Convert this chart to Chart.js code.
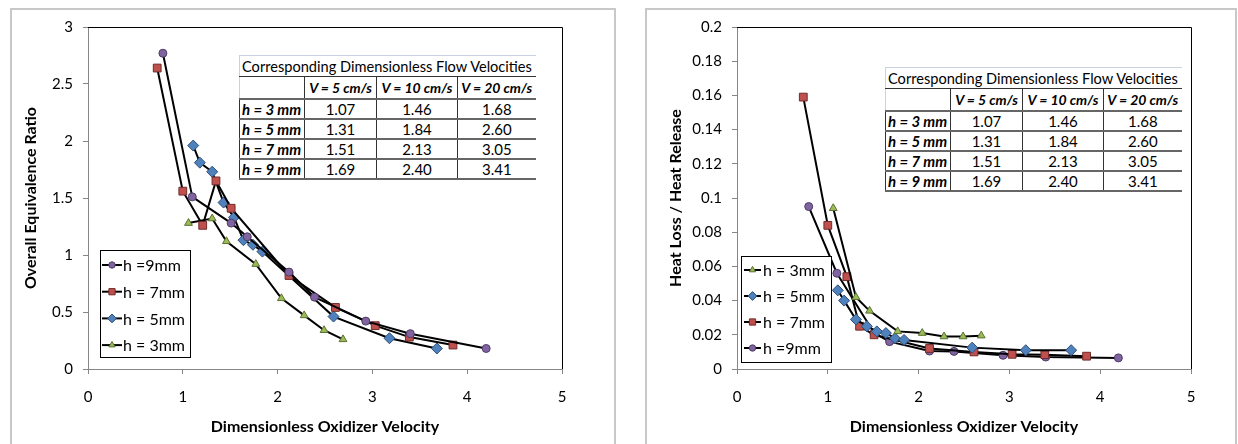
<!DOCTYPE html>
<html>
<head>
<meta charset="utf-8">
<script src="https://cdn.jsdelivr.net/npm/chart.js@4.4.0/dist/chart.umd.min.js"></script>
<style>
    body { margin: 0; background: #fff; width: 1238px; height: 444px; overflow: hidden; position: relative; font-family: Lato, sans-serif; }
    .frame { position: absolute; border: 2px solid #c8c8c8; box-sizing: border-box; }
    canvas { position: absolute; }
    table.vel { position: absolute; width: 296px; border-collapse: collapse; table-layout: fixed; background: #fff; font-size: 15px; color: #000; }
    table.vel td { padding: 0; text-align: center; white-space: nowrap; overflow: hidden; border-right: 1px solid #333; border-bottom: 2px solid #666; }
    table.vel td.rh { text-align: left; padding-left: 2px; font-weight: bold; font-style: italic; border-left: 1px solid #333; }
    table.vel td.ch { font-weight: bold; font-style: italic; font-size: 14px; }
    table.vel td.head { text-align: left; padding-left: 2px; font-size: 14.6px; border-top: 1px solid #c9d3e3; border-left: 1px solid #c9d3e3; border-right: none; border-bottom: 1px solid #333; }
    table.vel td.blank { border-left: 1px solid #c9d3e3; }
    table.vel td.last { border-right: none; }
</style>
</head>
<body>
<div class="frame" style="left:10px;top:8px;width:606px;height:450px;"></div>
<div class="frame" style="left:645px;top:8px;width:592px;height:450px;"></div>
<canvas id="ratio-chart" width="605" height="436" style="left:10px;top:8px;"></canvas>
<canvas id="loss-chart" width="590" height="436" style="left:646px;top:8px;"></canvas>
<table class="vel" id="table-left" style="left:239px;top:55px;"></table>
<table class="vel" id="table-right" style="left:885px;top:67px;"></table>

<script>
// x positions (dimensionless oxidizer velocity) for each channel height
const xH9 = [0.79, 1.10, 1.51, 1.68, 2.12, 2.39, 2.93, 3.40, 4.20];
const xH7 = [0.73, 1.00, 1.21, 1.35, 1.51, 2.12, 2.61, 3.03, 3.39, 3.85];
const xH5 = [1.11, 1.18, 1.31, 1.43, 1.54, 1.64, 1.74, 1.84, 2.59, 3.18, 3.68];
const xH3 = [1.06, 1.31, 1.46, 1.77, 2.04, 2.28, 2.49, 2.69];

// overall equivalence ratio (left chart)
const ratioH9 = [2.77, 1.51, 1.28, 1.16, 0.85, 0.63, 0.42, 0.31, 0.18];
const ratioH7 = [2.64, 1.56, 1.26, 1.65, 1.41, 0.82, 0.54, 0.38, 0.28, 0.21];
const ratioH5 = [1.96, 1.81, 1.73, 1.46, 1.33, 1.13, 1.09, 1.03, 0.46, 0.27, 0.18];
const ratioH3 = [1.28, 1.32, 1.12, 0.92, 0.62, 0.47, 0.34, 0.26];

// heat loss / heat release (right chart)
const lossH9 = [0.095, 0.056, 0.021, 0.016, 0.0105, 0.0103, 0.008, 0.007, 0.0065];
const lossH7 = [0.159, 0.084, 0.054, 0.025, 0.020, 0.012, 0.010, 0.0086, 0.0084, 0.0075];
const lossH5 = [0.046, 0.040, 0.029, 0.025, 0.022, 0.021, 0.018, 0.017, 0.0125, 0.011, 0.011];
const lossH3 = [0.094, 0.042, 0.034, 0.022, 0.021, 0.019, 0.019, 0.0195];

const xTicks = [0, 1, 2, 3, 4, 5];
const ratioTicks = [0, 0.5, 1, 1.5, 2, 2.5, 3];
const lossTicks = [0, 0.02, 0.04, 0.06, 0.08, 0.1, 0.12, 0.14, 0.16, 0.18, 0.2];

// inset table
const tableTitle = 'Corresponding Dimensionless Flow Velocities';
const tableCols = ['V = 5 cm/s', 'V = 10 cm/s', 'V = 20 cm/s'];
const tableRows = ['h = 3 mm', 'h = 5 mm', 'h = 7 mm', 'h = 9 mm'];
const tableVals = [
    ['1.07', '1.46', '1.68'],
    ['1.31', '1.84', '2.60'],
    ['1.51', '2.13', '3.05'],
    ['1.69', '2.40', '3.41']
];

const FONT = 'Lato, sans-serif';

// marker styles per series
const STYLES = {
    h9: { pointStyle: 'circle', pointRadius: 4, pointBackgroundColor: '#8064A2', pointBorderColor: '#4d3b63' },
    h7: { pointStyle: 'rect', pointRadius: 5.5, pointBackgroundColor: '#C0504D', pointBorderColor: '#6e2c2a' },
    h5: { pointStyle: 'rectRot', pointRadius: 5.5, pointBackgroundColor: '#4F81BD', pointBorderColor: '#2c4d75' },
    h3: { pointStyle: 'triangle', pointRadius: 4.5, pointBackgroundColor: '#9BBB59', pointBorderColor: '#5b7031' }
};

function makeSeries(label, key, xs, ys) {
    return {
        label: label,
        data: xs.map((x, i) => ({ x: x, y: ys[i] })),
        borderColor: '#000',
        borderWidth: 2,
        tension: 0,
        fill: false,
        pointBorderWidth: 1,
        ...STYLES[key]
    };
}

// black top/right edges of the plot area
const plotFrame = {
    id: 'plotFrame',
    afterDatasetsDraw(chart) {
        const { ctx, chartArea: a } = chart;
        ctx.save();
        ctx.strokeStyle = '#000';
        ctx.lineWidth = 1;
        ctx.beginPath();
        ctx.moveTo(a.left, Math.round(a.top) + 0.5);
        ctx.lineTo(Math.round(a.right) + 0.5, Math.round(a.top) + 0.5);
        ctx.lineTo(Math.round(a.right) + 0.5, a.bottom);
        ctx.stroke();
        ctx.restore();
    }
};

// boxed legend placed inside the plot
const boxLegend = {
    id: 'boxLegend',
    afterDraw(chart, args, opts) {
        const ctx = chart.ctx;
        ctx.save();
        ctx.fillStyle = '#fff';
        ctx.fillRect(opts.x, opts.y, opts.w, opts.h);
        ctx.strokeStyle = '#000';
        ctx.lineWidth = 1;
        ctx.strokeRect(opts.x + 0.5, opts.y + 0.5, opts.w, opts.h);
        opts.order.forEach((idx, i) => {
            const ds = chart.data.datasets[idx];
            const y = opts.firstY + i * opts.step;
            ctx.strokeStyle = '#000';
            ctx.lineWidth = 2;
            ctx.beginPath();
            ctx.moveTo(opts.lineX0, y);
            ctx.lineTo(opts.lineX1, y);
            ctx.stroke();
            ctx.fillStyle = ds.pointBackgroundColor;
            ctx.strokeStyle = ds.pointBorderColor;
            ctx.lineWidth = 1;
            Chart.helpers.drawPoint(ctx, {
                pointStyle: ds.pointStyle,
                radius: ds.pointRadius * 0.8,
                borderWidth: 1,
                rotation: 0
            }, (opts.lineX0 + opts.lineX1) / 2, y);
            ctx.fillStyle = '#000';
            ctx.font = opts.fontSize + 'px ' + FONT;
            ctx.textBaseline = 'middle';
            ctx.textAlign = 'left';
            ctx.fillText(ds.label, opts.textX, y + 1);
        });
        ctx.restore();
    }
};

function buildChart(canvasId, datasets, cfg) {
    const ctx = document.getElementById(canvasId).getContext('2d');
    return new Chart(ctx, {
        type: 'line',
        data: { datasets: datasets },
        options: {
            responsive: false,
            animation: false,
            devicePixelRatio: 1,
            layout: { padding: { left: 0, top: cfg.top, right: cfg.right, bottom: 0 } },
            plugins: {
                legend: { display: false },
                tooltip: { enabled: false },
                boxLegend: cfg.legend
            },
            scales: {
                x: {
                    type: 'linear',
                    min: 0,
                    max: 5,
                    afterBuildTicks: s => { s.ticks = xTicks.map(v => ({ value: v })); },
                    afterFit: s => { s.height = 75; },
                    grid: { drawOnChartArea: false, tickLength: 5, color: '#868686' },
                    border: { color: '#868686', width: 1 },
                    ticks: { color: '#000', padding: 14, font: { family: FONT, size: 15 } },
                    title: {
                        display: true,
                        text: 'Dimensionless Oxidizer Velocity',
                        color: '#000',
                        font: { family: FONT, size: 16, weight: 'bold' },
                        padding: { top: 0, bottom: 8 }
                    }
                },
                y: {
                    type: 'linear',
                    min: cfg.yTicks[0],
                    max: cfg.yTicks[cfg.yTicks.length - 1],
                    afterBuildTicks: s => { s.ticks = cfg.yTicks.map(v => ({ value: v })); },
                    afterFit: s => { s.width = cfg.yWidth; },
                    grid: { drawOnChartArea: false, tickLength: 5, color: '#868686' },
                    border: { color: '#868686', width: 1 },
                    ticks: {
                        color: '#000',
                        padding: 10,
                        font: { family: FONT, size: 15 },
                        callback: v => String(Number(v.toFixed(2)))
                    },
                    title: {
                        display: true,
                        text: cfg.yTitle,
                        color: '#000',
                        font: { family: FONT, size: 16, weight: 'bold' },
                        padding: { top: cfg.yTitlePad, bottom: 0 }
                    }
                }
            }
        },
        plugins: [plotFrame, boxLegend]
    });
}

function fillTable(id) {
    const table = document.getElementById(id);
    const colWidths = [65, 72, 81, 78];
    let html = '<colgroup>' + colWidths.map(w => `<col style="width:${w}px">`).join('') + '</colgroup>';
    html += `<tr style="height:21px"><td class="head" colspan="4">${tableTitle}</td></tr>`;
    html += '<tr style="height:22px"><td class="blank"></td>' +
        tableCols.map((c, i) => `<td class="ch${i === tableCols.length - 1 ? ' last' : ''}">${c}</td>`).join('') + '</tr>';
    tableRows.forEach((r, ri) => {
        html += `<tr style="height:20px"><td class="rh">${r}</td>` +
            tableVals[ri].map((v, i) => `<td class="${i === 2 ? 'last' : ''}">${v}</td>`).join('') + '</tr>';
    });
    table.innerHTML = html;
}

document.addEventListener('DOMContentLoaded', () => {
    buildChart('ratio-chart', [
        makeSeries('h =9mm', 'h9', xH9, ratioH9),
        makeSeries('h = 7mm', 'h7', xH7, ratioH7),
        makeSeries('h = 5mm', 'h5', xH5, ratioH5),
        makeSeries('h = 3mm', 'h3', xH3, ratioH3)
    ], {
        top: 14, right: 53, yWidth: 78, yTitlePad: 11,
        yTicks: ratioTicks,
        yTitle: 'Overall Equivalence Ratio',
        legend: { x: 90, y: 242, w: 90, h: 107, order: [0, 1, 2, 3], firstY: 257, step: 26.7,
                  lineX0: 92, lineX1: 112, textX: 113, fontSize: 16 }
    });

    buildChart('loss-chart', [
        makeSeries('h = 3mm', 'h3', xH3, lossH3),
        makeSeries('h = 5mm', 'h5', xH5, lossH5),
        makeSeries('h = 7mm', 'h7', xH7, lossH7),
        makeSeries('h =9mm', 'h9', xH9, lossH9)
    ], {
        top: 13, right: 45, yWidth: 91, yTitlePad: 20,
        yTicks: lossTicks,
        yTitle: 'Heat Loss / Heat Release',
        legend: { x: 95, y: 248, w: 90, h: 106, order: [0, 1, 2, 3], firstY: 262, step: 26,
                  lineX0: 98, lineX1: 115, textX: 117, fontSize: 16 }
    });

    fillTable('table-left');
    fillTable('table-right');
});
</script>
</body>
</html>
